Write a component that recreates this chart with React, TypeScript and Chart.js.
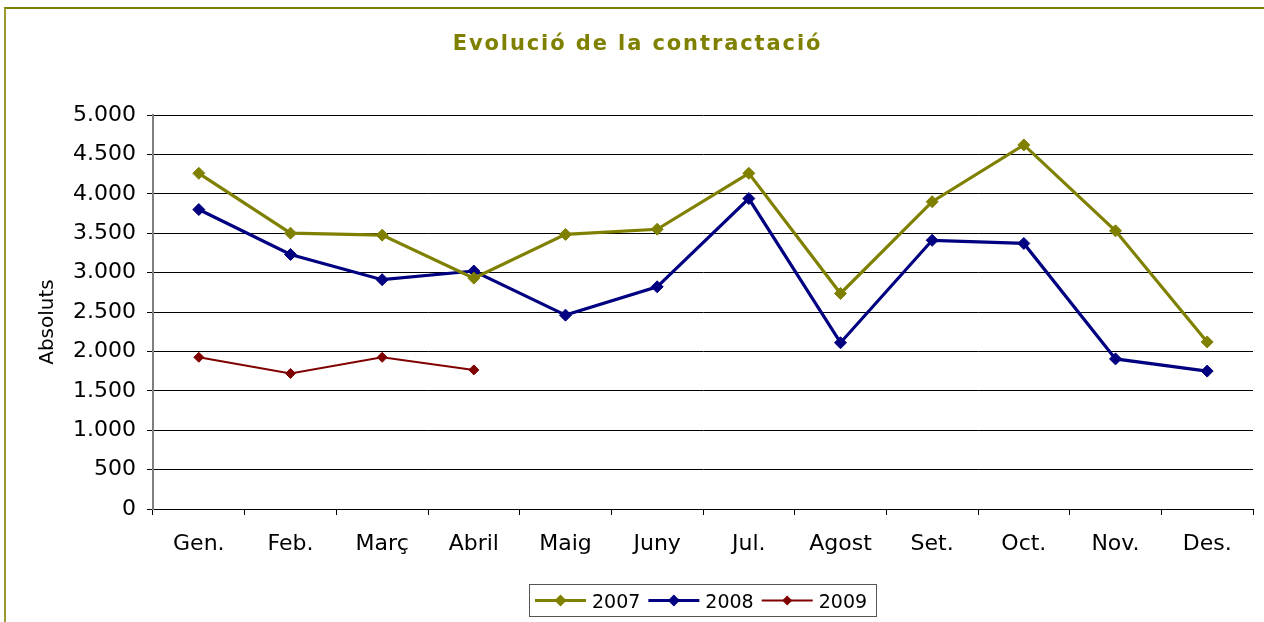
import React, { useEffect, useRef } from "react";
import { Chart, registerables } from "chart.js";

Chart.register(...registerables);

const categories = ["Gen.", "Feb.", "Març", "Abril", "Maig", "Juny", "Jul.", "Agost", "Set.", "Oct.", "Nov.", "Des."];
const seriesNames = ["2007", "2008", "2009"];
const values2007 = [4260, 3500, 3475, 2930, 3485, 3550, 4260, 2735, 3900, 4620, 3530, 2120];
const values2008 = [3800, 3230, 2910, 3020, 2460, 2820, 3940, 2110, 3410, 3370, 1905, 1750];
const values2009 = [1925, 1720, 1925, 1765];
const seriesColors = ["#808000", "#000080", "#800000"];
const yMin = 0;
const yMax = 5000;
const yStep = 500;
const chartTitle = "Evolució de la contractació";
const yAxisTitle = "Absoluts";

const FONT = "'DejaVu Sans', Verdana, sans-serif";

function fmt(v: number): string {
  return String(v).replace(/\B(?=(\d{3})+(?!\d))/g, ".");
}

function drawDiamond(ctx: CanvasRenderingContext2D, x: number, y: number, r: number, color: string) {
  ctx.beginPath();
  ctx.moveTo(x, y - r);
  ctx.lineTo(x + r, y);
  ctx.lineTo(x, y + r);
  ctx.lineTo(x - r, y);
  ctx.closePath();
  ctx.fillStyle = color;
  ctx.fill();
}

const decorPlugin = {
  id: "decor",
  afterDraw(chart: any) {
    const ctx: CanvasRenderingContext2D = chart.ctx;
    ctx.save();
    // Title
    ctx.font = `bold 21px ${FONT}`;
    (ctx as any).letterSpacing = "1.9px";
    ctx.fillStyle = "#808000";
    ctx.textAlign = "left";
    ctx.textBaseline = "alphabetic";
    const tw = ctx.measureText(chartTitle).width;
    ctx.fillText(chartTitle, 637.5 - tw / 2, 50);
    (ctx as any).letterSpacing = "0px";

    // Y axis title
    ctx.save();
    ctx.translate(53, 322);
    ctx.rotate(-Math.PI / 2);
    ctx.font = `20px ${FONT}`;
    ctx.fillStyle = "#000";
    ctx.textAlign = "center";
    ctx.textBaseline = "alphabetic";
    ctx.fillText(yAxisTitle, 0, 0);
    ctx.restore();

    // Legend
    ctx.strokeStyle = "#555";
    ctx.lineWidth = 1;
    ctx.strokeRect(529.5, 584.5, 347, 32);
    let x = 535;
    const ly = 600.5;
    ctx.font = `19px ${FONT}`;
    ctx.textBaseline = "alphabetic";
    ctx.textAlign = "left";
    chart.data.datasets.forEach((ds: any) => {
      ctx.strokeStyle = ds.borderColor;
      ctx.lineWidth = ds.borderWidth;
      ctx.beginPath();
      ctx.moveTo(x, ly);
      ctx.lineTo(x + 51, ly);
      ctx.stroke();
      drawDiamond(ctx, x + 25.5, ly, ds.pointRadius, ds.borderColor);
      ctx.fillStyle = "#000";
      ctx.fillText(ds.label, x + 57, 608);
      const w = ctx.measureText(ds.label).width;
      x = x + 57 + w + 8;
    });
    ctx.restore();
  },
};

export default function App() {
  const canvasRef = useRef<HTMLCanvasElement | null>(null);

  useEffect(() => {
    const canvas = canvasRef.current;
    if (!canvas) return;
    const allValues = [values2007, values2008, values2009];
    const widths = [3.2, 3.2, 2];
    const radii = [6, 6, 5];
    const chart = new Chart(canvas, {
      type: "line",
      data: {
        labels: categories,
        datasets: seriesNames.map((name, i) => ({
          label: name,
          data: allValues[i],
          borderColor: seriesColors[i],
          backgroundColor: seriesColors[i],
          borderWidth: widths[i],
          pointStyle: "rectRot",
          pointRadius: radii[i],
          pointBorderWidth: 1,
          pointBackgroundColor: seriesColors[i],
          pointBorderColor: seriesColors[i],
          tension: 0,
          fill: false,
        })),
      },
      options: {
        responsive: false,
        animation: false,
        devicePixelRatio: 1,
        layout: { padding: { top: 115, right: 11, bottom: 0, left: 0 } },
        plugins: {
          legend: { display: false },
          title: { display: false },
          tooltip: { enabled: false },
        },
        scales: {
          x: {
            type: "category",
            offset: true,
            grid: {
              display: true,
              drawOnChartArea: false,
              drawTicks: true,
              tickLength: 6,
              color: "#000",
              offset: true,
            },
            border: { display: true, color: "#000", width: 1 },
            ticks: {
              font: { family: FONT, size: 22 },
              color: "#000",
              padding: 16,
              maxRotation: 0,
              autoSkip: false,
            },
            afterFit: (s: any) => {
              s.height = 113;
            },
          },
          y: {
            min: yMin,
            max: yMax,
            ticks: {
              stepSize: yStep,
              callback: (v: any) => fmt(Number(v)),
              font: { family: FONT, size: 22 },
              color: "#000",
              padding: 11,
            },
            grid: { color: "#000", lineWidth: 1, tickLength: 6, drawTicks: true },
            border: { display: true, color: "#808080", width: 2 },
            afterFit: (s: any) => {
              s.width = 153;
            },
          },
        },
      },
      plugins: [decorPlugin],
    } as any);
    return () => chart.destroy();
  }, []);

  return (
    <div style={{ position: "absolute", left: 0, top: 0, width: 1264, height: 622, overflow: "hidden", background: "#fff" }}>
      <div
        style={{
          position: "absolute",
          left: 4,
          top: 7,
          width: 3000,
          height: 3000,
          borderTop: "2px solid #808000",
          borderLeft: "2px solid #9a9a30",
        }}
      />
      <canvas ref={canvasRef} width={1264} height={622} style={{ position: "absolute", left: 0, top: 0, width: 1264, height: 622 }} />
    </div>
  );
}
